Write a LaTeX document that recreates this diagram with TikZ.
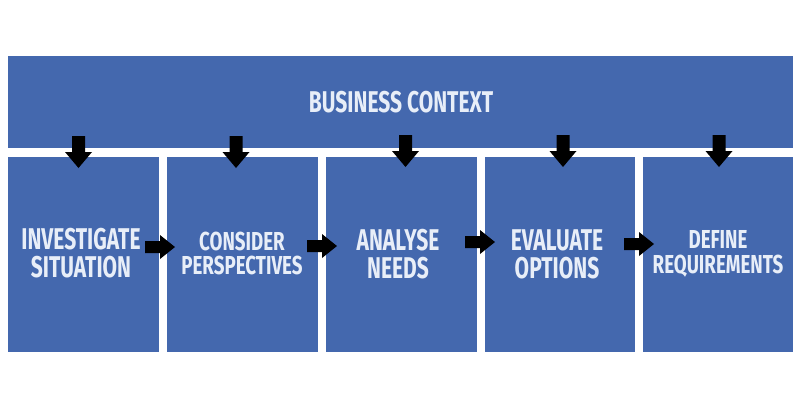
\documentclass[tikz,border=0pt]{standalone}
\usepackage{fontspec}
\newfontfamily\condfont[FakeStretch=0.70]{Fira Sans Bold}
\newfontfamily\condfontb[FakeStretch=0.72]{Fira Sans Bold}
\definecolor{boxblue}{HTML}{4468AE}
\definecolor{txtcol}{HTML}{E8EEF8}
\tikzset{
  panel/.style={fill=boxblue, draw=none},
  bigtxt/.style={text=txtcol, align=center, inner sep=0pt, font=\condfont\fontsize{30}{28}\selectfont},
  smalltxt/.style={text=txtcol, align=center, inner sep=0pt, font=\condfontb\fontsize{26}{24.5}\selectfont},
  blk/.style={fill=black, draw=none}
}
\newcommand{\downarr}[2]{% x center, top y
  \fill[blk] (#1-6.5,#2) -- (#1+6.5,#2) -- (#1+6.5,#2+16) -- (#1+13.5,#2+16) -- (#1,#2+32) -- (#1-13.5,#2+16) -- (#1-6.5,#2+16) -- cycle;}
\newcommand{\rightarr}[2]{% left x, center y
  \fill[blk] (#1,#2-6) -- (#1+15,#2-6) -- (#1+15,#2-12) -- (#1+30,#2) -- (#1+15,#2+12) -- (#1+15,#2+6) -- (#1,#2+6) -- cycle;}
\begin{document}
\begin{tikzpicture}[x=1pt,y=-1pt]
\useasboundingbox (0,0) rectangle (800,408);
\fill[white] (0,0) rectangle (800,408);
% top panel
\node[panel, minimum width=785pt, minimum height=92pt, inner sep=0pt, anchor=north west] (ctx) at (8,56) {};
\node[bigtxt] (ctxt) at (401,102.5) {BUSINESS CONTEXT};
% step panels
\node[panel, minimum width=151pt, minimum height=195pt, inner sep=0pt, anchor=north west] (p1) at (8,157) {};
\node[panel, minimum width=151pt, minimum height=195pt, inner sep=0pt, anchor=north west] (p2) at (167,157) {};
\node[panel, minimum width=151pt, minimum height=195pt, inner sep=0pt, anchor=north west] (p3) at (326,157) {};
\node[panel, minimum width=150pt, minimum height=195pt, inner sep=0pt, anchor=north west] (p4) at (485,157) {};
\node[panel, minimum width=150pt, minimum height=195pt, inner sep=0pt, anchor=north west] (p5) at (643,157) {};
% texts
\node[bigtxt] (t1) at (81,253) {INVESTIGATE\\SITUATION};
\node[smalltxt] (t2) at (242,253.5) {CONSIDER\\PERSPECTIVES};
\node[bigtxt] (t3) at (398,254) {ANALYSE\\NEEDS};
\node[bigtxt] (t4) at (557,254) {EVALUATE\\OPTIONS};
\node[smalltxt] (t5) at (718,254) {DEFINE\\REQUIREMENTS};
% down arrows
\downarr{78.5}{136}
\downarr{236}{136}
\downarr{405.5}{135}
\downarr{563}{135}
\downarr{719}{135}
% right arrows
\rightarr{145}{247}
\rightarr{307}{246}
\rightarr{465}{242}
\rightarr{624}{244}
\end{tikzpicture}
\end{document}
